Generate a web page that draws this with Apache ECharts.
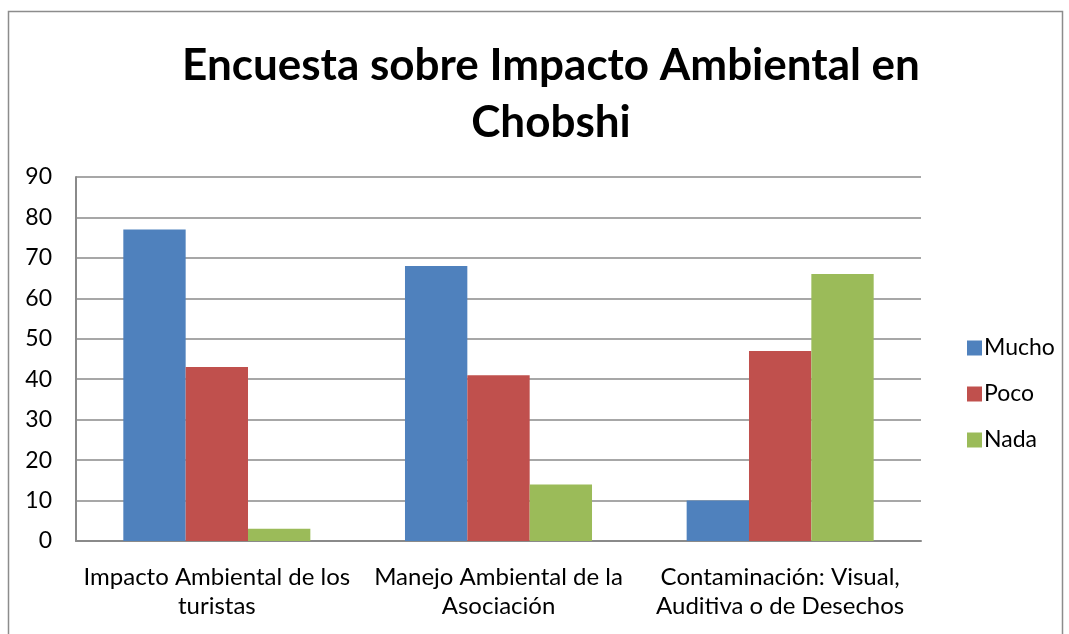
<!DOCTYPE html>
<html>
<head>
<meta charset="utf-8">
<script src="https://cdn.jsdelivr.net/npm/echarts@6/dist/echarts.min.js"></script>
<style>
  html, body { margin: 0; padding: 0; background: #fff; }
  #chart { width: 1069px; height: 634px; }
</style>
</head>
<body>
<div id="chart"></div>
<script>
// categories and series
const categories = [
  'Impacto Ambiental de los\nturistas',
  'Manejo Ambiental de la\nAsociación',
  'Contaminación: Visual,\nAuditiva o de Desechos'
]
const mucho = [77, 68, 10]
const poco = [43, 41, 47]
const nada = [3, 14, 66]

const FONT = 'Lato, "Open Sans", sans-serif'
const GRID_COLOR = '#8a8a8a'

const chart = echarts.init(document.getElementById('chart'))

const bar = (name, data, color) => ({
  name,
  type: 'bar',
  data,
  barGap: '0%',
  barCategoryGap: '33.6%',
  itemStyle: { color },
  emphasis: { disabled: true }
})

chart.setOption({
  animation: false,
  textStyle: { fontFamily: FONT },
  // outer chart frame
  graphic: [{
    type: 'rect',
    shape: { x: 8.5, y: 11.5, width: 1054, height: 660 },
    style: { fill: 'none', stroke: '#8c8c8c', lineWidth: 1.5 },
    silent: true
  }],
  title: {
    text: 'Encuesta sobre Impacto Ambiental en\nChobshi',
    left: 546,
    textAlign: 'center',
    top: 32,
    textStyle: {
      fontFamily: FONT,
      fontSize: 44,
      fontWeight: 'bold',
      color: '#000',
      lineHeight: 57
    }
  },
  legend: {
    orient: 'vertical',
    left: 962,
    top: 331,
    itemWidth: 15,
    itemHeight: 15,
    itemGap: 22,
    icon: 'rect',
    data: ['Mucho', 'Poco', 'Nada'],
    textStyle: { fontFamily: FONT, fontSize: 23, color: '#000', lineHeight: 24, padding: [0, 0, 0, -3] }
  },
  grid: { left: 76, right: 148, top: 177, bottom: 93, containLabel: false },
  xAxis: {
    type: 'category',
    data: categories,
    axisLine: { lineStyle: { color: GRID_COLOR, width: 2 } },
    axisTick: { show: false },
    axisLabel: {
      color: '#000',
      fontFamily: FONT,
      fontSize: 24,
      lineHeight: 29,
      margin: 22,
      interval: 0
    }
  },
  yAxis: {
    type: 'value',
    min: 0,
    max: 90,
    interval: 10,
    axisLine: { show: true, lineStyle: { color: GRID_COLOR, width: 2 } },
    axisTick: { show: false },
    splitLine: { lineStyle: { color: GRID_COLOR, width: 1.5 } },
    axisLabel: { color: '#000', fontFamily: FONT, fontSize: 23, margin: 24 }
  },
  series: [
    bar('Mucho', mucho, '#4f81bd'),
    bar('Poco', poco, '#c0504d'),
    bar('Nada', nada, '#9bbb59')
  ]
})
</script>
</body>
</html>
